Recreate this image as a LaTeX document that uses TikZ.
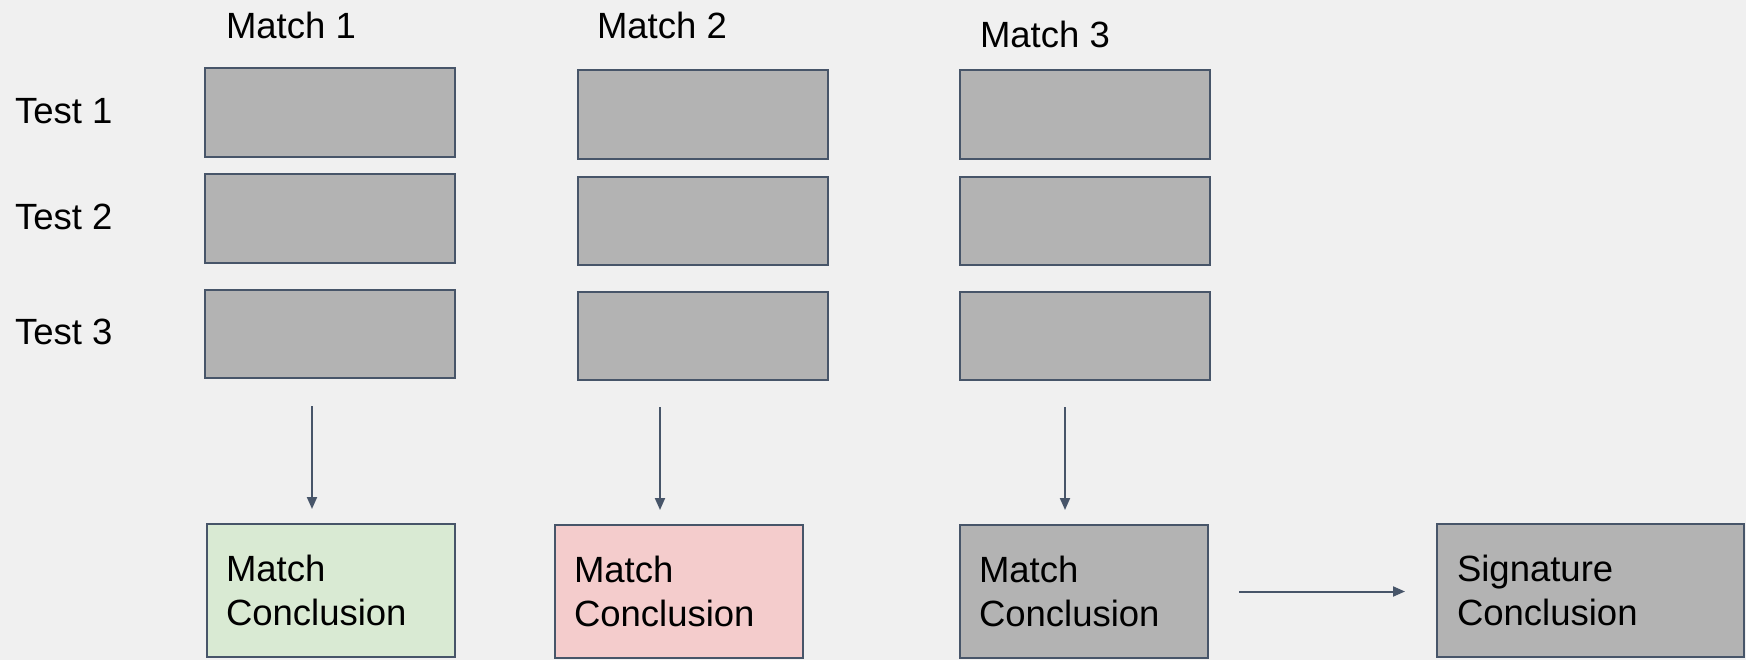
\documentclass[tikz,border=0pt]{standalone}
\usepackage{fontspec}
\setmainfont{Liberation Sans}
\usepackage{xcolor}
\usepackage{tikz}
\usetikzlibrary{positioning,arrows.meta}

\definecolor{backgr}{HTML}{F0F0F0}
\definecolor{edgecol}{HTML}{475569}
\definecolor{cellgrey}{HTML}{B3B3B3}
\definecolor{passgreen}{HTML}{D9EAD3}
\definecolor{failred}{HTML}{F4CCCC}

\begin{document}
\begin{tikzpicture}[x=1pt,y=-1pt,>={Triangle[length=12pt,width=10pt]},line width=2pt,
    cell/.style={rectangle,draw=edgecol,fill=cellgrey,minimum width=250pt,minimum height=88.5pt,inner sep=0pt},
    concl/.style={rectangle,draw=edgecol,fill=cellgrey,align=left,inner xsep=19pt,text width=210pt,minimum height=133pt,font=\fontsize{36.5}{44}\selectfont},
    lbl/.style={anchor=base west,inner sep=0pt,font=\fontsize{36.5}{44}\selectfont}]

    % Page
    \fill[backgr] (0,0) rectangle (1746,660);
    \useasboundingbox (0,0) rectangle (1746,660);

    % Row and column labels
    \node [lbl] at (14,124) (t1) {Test 1};
    \node [lbl] at (14,230) (t2) {Test 2};
    \node [lbl] at (14,344.3) (t3) {Test 3};
    \node [lbl] at (225,38.3) (m1) {Match 1};
    \node [lbl] at (596,38.3) (m2) {Match 2};
    \node [lbl] at (979,47.7) (m3) {Match 3};

    % Test cells
    \node [cell] at (330,112.3) (m1t1) {};
    \node [cell] at (330,218.7) (m1t2) {};
    \node [cell] at (330,334) (m1t3) {};
    \node [cell] at (702.7,114.3) (m2t1) {};
    \node [cell] at (702.7,221) (m2t2) {};
    \node [cell] at (702.7,336) (m2t3) {};
    \node [cell] at (1085,114.3) (m3t1) {};
    \node [cell] at (1085,221) (m3t2) {};
    \node [cell] at (1085,336) (m3t3) {};

    % Conclusions
    \node [concl,fill=passgreen] at (331,590.5) (c1) {Match\\Conclusion};
    \node [concl,fill=failred] at (679,591.5) (c2) {Match\\Conclusion};
    \node [concl] at (1084,591.5) (c3) {Match\\Conclusion};
    \node [concl,inner xsep=20pt,text width=267pt] at (1590.5,590.5) (sig) {Signature\\Conclusion};

    % Arrow starts
    \coordinate (a1) at (312,406);
    \coordinate (a2) at (660,407);
    \coordinate (a3) at (1065,407);

    % Edges
    \path[->,color=edgecol]
    (a1) edge[shorten >=14pt] (a1 |- c1.north)
    (a2) edge[shorten >=14pt] (a2 |- c2.north)
    (a3) edge[shorten >=14pt] (a3 |- c3.north)
    (c3.east) edge[shorten <=30pt,shorten >=31pt] (c3.east -| sig.west)
    ;

\end{tikzpicture}
\end{document}
